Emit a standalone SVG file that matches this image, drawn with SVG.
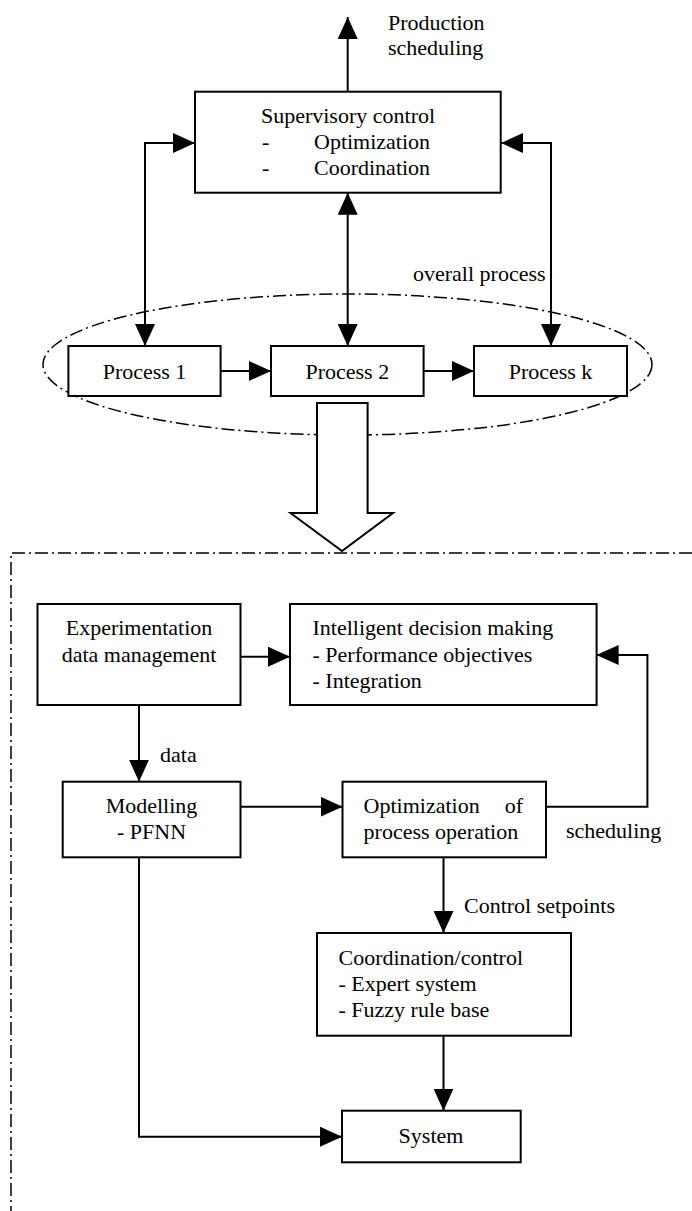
<svg xmlns="http://www.w3.org/2000/svg" width="692" height="1211" viewBox="0 0 692 1211">
<style>
.box{fill:#fff;stroke:#000;stroke-width:2}
.ln{fill:none;stroke:#000;stroke-width:2}
.dd{fill:none;stroke:#000;stroke-width:1.5;stroke-dasharray:13 4 2 4}
text{font-family:"Liberation Serif","Times New Roman",serif;font-size:22px;fill:#000}
.c{text-anchor:middle}
</style>
<defs>
<marker id="ah" markerUnits="userSpaceOnUse" markerWidth="22" markerHeight="20" refX="22" refY="10" orient="auto-start-reverse" viewBox="0 0 22 20">
<path d="M0,0 L22,10 L0,20 Z" fill="#000"/>
</marker>
</defs>

<g id="frame">
<path class="dd" d="M692,553 H11 V1211"/>
</g>

<g id="overall-process">
<ellipse class="dd" cx="347.5" cy="364.5" rx="304.5" ry="70.5"/>
<text x="413" y="281">overall process</text>
</g>

<g id="connectors">
<path class="ln" d="M347.7,92 V17" marker-end="url(#ah)"/>
<path class="ln" d="M195,143 H145 V346" marker-start="url(#ah)" marker-end="url(#ah)"/>
<path class="ln" d="M501,143 H551 V346" marker-start="url(#ah)" marker-end="url(#ah)"/>
<path class="ln" d="M347.7,192.7 V346" marker-start="url(#ah)" marker-end="url(#ah)"/>
<path class="ln" d="M221,371 H271" marker-end="url(#ah)"/>
<path class="ln" d="M424,371 H474" marker-end="url(#ah)"/>
<path class="ln" d="M240.5,656.7 H290" marker-end="url(#ah)"/>
<path class="ln" d="M546,806.7 H647.4 V655 H596.6" marker-end="url(#ah)"/>
<path class="ln" d="M139,705 V781.7" marker-end="url(#ah)"/>
<path class="ln" d="M240.5,806.7 H342.5" marker-end="url(#ah)"/>
<path class="ln" d="M443.5,857.3 V933" marker-end="url(#ah)"/>
<path class="ln" d="M443.5,1035.7 V1110.7" marker-end="url(#ah)"/>
<path class="ln" d="M139,857.3 V1136.7 H342" marker-end="url(#ah)"/>
<text x="388" y="30">Production</text>
<text x="388" y="55">scheduling</text>
<text x="160" y="762">data</text>
<text x="566" y="838">scheduling</text>
<text x="464" y="913">Control setpoints</text>
</g>

<g id="transfer-arrow">
<polygon class="box" points="317,403 367.6,403 367.6,513 393,513 342,551 290.5,513 317,513"/>
</g>

<g id="supervisory">
<rect class="box" x="195" y="91.7" width="305.7" height="101"/>
<text x="348" y="123" class="c">Supervisory control</text>
<text x="262" y="149">-</text>
<text x="314" y="149">Optimization</text>
<text x="262" y="175">-</text>
<text x="314" y="175">Coordination</text>
</g>

<g id="process1">
<rect class="box" x="68.4" y="346" width="152.2" height="50"/>
<text x="144.5" y="379" class="c">Process 1</text>
</g>
<g id="process2">
<rect class="box" x="271" y="346" width="152.6" height="50"/>
<text x="347.3" y="379" class="c">Process 2</text>
</g>
<g id="processk">
<rect class="box" x="474" y="346" width="153" height="50"/>
<text x="550.5" y="379" class="c">Process k</text>
</g>

<g id="experimentation">
<rect class="box" x="37.5" y="604" width="203" height="101"/>
<text x="139" y="635" class="c">Experimentation</text>
<text x="139" y="662" class="c">data management</text>
</g>

<g id="decision">
<rect class="box" x="290" y="604" width="306.6" height="101"/>
<text x="312.5" y="635">Intelligent decision making</text>
<text x="312.5" y="662">- Performance objectives</text>
<text x="312.5" y="688">- Integration</text>
</g>

<g id="modelling">
<rect class="box" x="62.7" y="781.7" width="177.8" height="75.6"/>
<text x="151.5" y="813" class="c">Modelling</text>
<text x="151.5" y="839" class="c">- PFNN</text>
</g>

<g id="optimization">
<rect class="box" x="342.5" y="781.7" width="203.5" height="75.6"/>
<text x="363.6" y="813">Optimization</text>
<text x="523" y="813" text-anchor="end">of</text>
<text x="363.6" y="839">process operation</text>
</g>

<g id="coordination">
<rect class="box" x="317" y="933" width="254" height="102.7"/>
<text x="338.5" y="965">Coordination/control</text>
<text x="338.5" y="991">- Expert system</text>
<text x="338.5" y="1017">- Fuzzy rule base</text>
</g>

<g id="system">
<rect class="box" x="342" y="1110.7" width="178.7" height="51.6"/>
<text x="431" y="1143" class="c">System</text>
</g>
</svg>
